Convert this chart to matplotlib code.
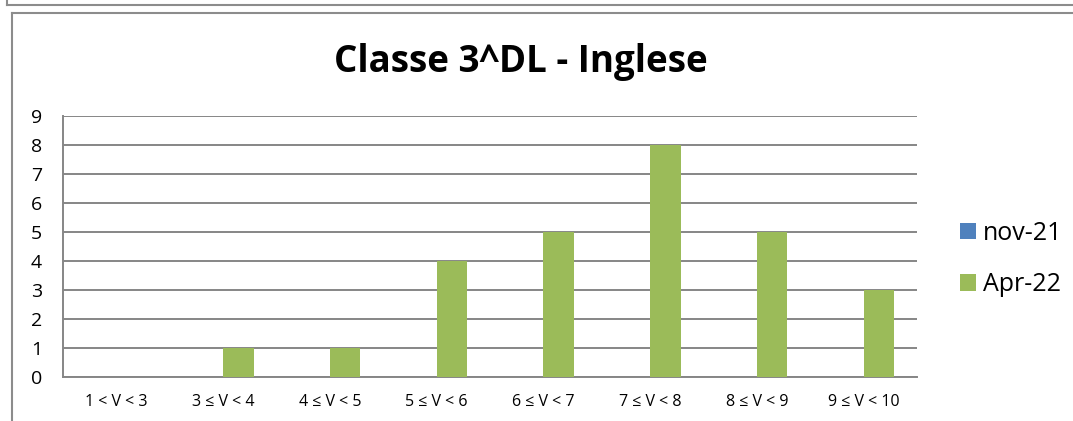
from matplotlib import pyplot as plt
from matplotlib.lines import Line2D
import numpy as np

categories = ['1 < V < 3', '3 ≤ V < 4', '4 ≤ V < 5', '5 ≤ V < 6',
			  '6 ≤ V < 7', '7 ≤ V < 8', '8 ≤ V < 9', '9 ≤ V < 10']
nov21 = [0, 0, 0, 0, 0, 0, 0, 0]
apr22 = [0, 1, 1, 4, 5, 8, 5, 3]
series_names = ['nov-21', 'Apr-22']

def main():
	plt.rcParams['font.family'] = ['Open Sans', 'DejaVu Sans']
	W, H = 1073, 421
	fig = plt.figure(figsize=(W/100, H/100), dpi=100)

	# frame of previous chart and of this chart
	grey = '#8c8c8c'
	fig.add_artist(Line2D([7/W, 1], [1-5/H, 1-5/H], color=grey, lw=1.5))
	fig.add_artist(Line2D([7/W, 7/W], [1, 1-5/H], color=grey, lw=1.5))
	fig.add_artist(Line2D([12/W, 1], [1-13/H, 1-13/H], color=grey, lw=1.5))
	fig.add_artist(Line2D([12/W, 12/W], [0, 1-13/H], color=grey, lw=1.5))

	ax = fig.add_axes([63/W, 1-377/H, (917-63)/W, (377-116)/H])
	x = np.arange(len(categories))
	w = 0.285
	ax.bar(x - w/2, nov21, w, color='#4F81BD', label=series_names[0], zorder=3)
	ax.bar(x + w/2, apr22, w, color='#9BBB59', label=series_names[1], zorder=3)

	ax.set_xlim(-0.5, len(categories) - 0.5)
	ax.set_ylim(0, 9)
	ax.set_yticks(range(10))
	ax.set_xticks(x)
	ax.set_xticklabels(categories, fontsize=11.5)
	ax.tick_params(axis='both', length=0, colors='black')
	ax.tick_params(axis='y', labelsize=14, pad=15)
	ax.tick_params(axis='x', pad=12)
	ax.yaxis.grid(True, color='#868686', lw=1.4, zorder=0)
	for s in ['top', 'right']:
		ax.spines[s].set_visible(False)
	for s in ['left', 'bottom']:
		ax.spines[s].set_color('#868686')
		ax.spines[s].set_linewidth(1.4)

	fig.text(521/W, 1-62/H, 'Classe 3^DL - Inglese', ha='center', va='center',
			 fontsize=26.5, fontweight='bold')

	ax.legend(loc='center left', bbox_to_anchor=(937/W, 1-259/H),
			  bbox_transform=fig.transFigure, frameon=False, fontsize=18,
			  handlelength=0.65, handleheight=0.65, handletextpad=0.3,
			  labelspacing=1.05)

	fig.savefig('out.png', dpi=100)

if __name__ == "__main__":
	main()
